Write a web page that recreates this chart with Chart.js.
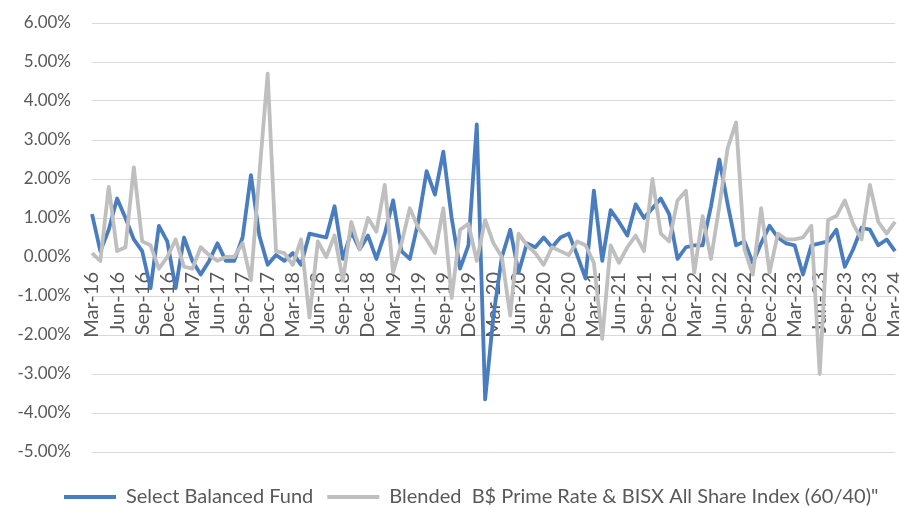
<!DOCTYPE html>
<html>
<head>
<meta charset="utf-8">
<title>Select Balanced Fund vs Blended Benchmark</title>
<script src="https://cdn.jsdelivr.net/npm/chart.js@4.4.1/dist/chart.umd.min.js"></script>
<style>
  html, body { margin: 0; padding: 0; background: #fff; }
  #wrap { width: 899px; height: 508px; position: relative; }
</style>
</head>
<body>
<div id="wrap"><canvas id="myLineChart" width="899" height="508"></canvas></div>
<script>
// Monthly categories (one every month, label shown every quarter)
var months = [
  "Mar-16","Apr-16","May-16","Jun-16","Jul-16","Aug-16","Sep-16","Oct-16","Nov-16","Dec-16",
  "Jan-17","Feb-17","Mar-17","Apr-17","May-17","Jun-17","Jul-17","Aug-17","Sep-17","Oct-17","Nov-17","Dec-17",
  "Jan-18","Feb-18","Mar-18","Apr-18","May-18","Jun-18","Jul-18","Aug-18","Sep-18","Oct-18","Nov-18","Dec-18",
  "Jan-19","Feb-19","Mar-19","Apr-19","May-19","Jun-19","Jul-19","Aug-19","Sep-19","Oct-19","Nov-19","Dec-19",
  "Jan-20","Feb-20","Mar-20","Apr-20","May-20","Jun-20","Jul-20","Aug-20","Sep-20","Oct-20","Nov-20","Dec-20",
  "Jan-21","Feb-21","Mar-21","Apr-21","May-21","Jun-21","Jul-21","Aug-21","Sep-21","Oct-21","Nov-21","Dec-21",
  "Jan-22","Feb-22","Mar-22","Apr-22","May-22","Jun-22","Jul-22","Aug-22","Sep-22","Oct-22","Nov-22","Dec-22",
  "Jan-23","Feb-23","Mar-23","Apr-23","May-23","Jun-23","Jul-23","Aug-23","Sep-23","Oct-23","Nov-23","Dec-23",
  "Jan-24","Feb-24","Mar-24"
];

// Monthly returns in %, Select Balanced Fund
var fundReturns = [
  1.1, 0.15, 0.7, 1.5, 1.0, 0.45, 0.15, -0.8, 0.8, 0.4,
  -0.8, 0.5, -0.1, -0.45, -0.1, 0.35, -0.1, -0.1, 0.5, 2.1, 0.55, -0.2,
  0.05, -0.1, 0.1, -0.2, 0.6, 0.55, 0.5, 1.3, -0.05, 0.65, 0.2, 0.55,
  -0.05, 0.6, 1.45, 0.15, -0.05, 0.9, 2.2, 1.6, 2.7, 1.0, -0.3, 0.3,
  3.4, -3.65, -1.5, 0.0, 0.7, -0.4, 0.35, 0.25, 0.5, 0.25, 0.5, 0.6,
  0.05, -0.55, 1.7, -0.1, 1.2, 0.9, 0.55, 1.35, 1.0, 1.25, 1.5, 1.1,
  -0.05, 0.25, 0.3, 0.3, 1.3, 2.5, 1.35, 0.3, 0.4, -0.15, 0.35, 0.8,
  0.5, 0.35, 0.3, -0.45, 0.3, 0.35, 0.4, 0.7, -0.25, 0.2, 0.75, 0.7,
  0.3, 0.45, 0.15
];

// Monthly returns in %, blended benchmark
var blendedReturns = [
  0.1, -0.1, 1.8, 0.15, 0.25, 2.3, 0.4, 0.3, -0.3, 0.0,
  0.45, -0.25, -0.3, 0.25, 0.05, -0.1, 0.0, 0.0, 0.35, -0.6, 2.1, 4.7,
  0.15, 0.1, -0.2, 0.45, -1.55, 0.4, 0.0, 0.55, -0.6, 0.9, 0.2, 1.0,
  0.65, 1.85, -0.4, 0.35, 1.25, 0.75, 0.45, 0.1, 1.25, -1.05, 0.7, 0.85,
  -0.1, 0.95, 0.35, 0.0, -1.5, 0.6, 0.3, 0.1, -0.2, 0.25, 0.15, 0.05,
  0.4, 0.3, -0.15, -2.1, 0.3, -0.15, 0.25, 0.55, 0.15, 2.0, 0.6, 0.4,
  1.45, 1.7, -0.4, 1.05, -0.05, 1.3, 2.8, 3.45, 0.2, -0.45, 1.25, -0.4,
  0.6, 0.45, 0.45, 0.5, 0.8, -3.0, 0.95, 1.05, 1.45, 0.85, 0.45, 1.85,
  0.9, 0.6, 0.9
];

// Axis settings
var yMin = -5;
var yMax = 6;
var yStep = 1;
var tickEvery = 3;

var seriesNames = [
  "Select Balanced Fund",
  "Blended  B$ Prime Rate & BISX All Share Index (60/40)\""
];

var textColor = "#595959";
var gridColor = "#d9d9d9";
var legendLeft = 50; // legend row starts a bit right of the canvas edge

//  Moves the legend row in from the left edge (right edge moves too so it stays on one row)
var legendShift = {
  id: "legendShift",
  afterLayout: function(chart) {
    var lg = chart.legend;
    if (lg) {
      lg.left = legendLeft;
      lg.right = chart.width + legendLeft;
    }
  }
};

var ctx = document.getElementById("myLineChart").getContext("2d");

var myChart = new Chart(ctx, {
  type: "line",
  data: {
    labels: months,
    datasets: [{
      label: seriesNames[0],
      data: fundReturns,
      borderColor: "#4a7dbf",
      backgroundColor: "#4a7dbf",
      borderWidth: 3.8,
      pointRadius: 0,
      tension: 0,
      order: 1
    }, {
      label: seriesNames[1],
      data: blendedReturns,
      borderColor: "#bfbfbf",
      backgroundColor: "#bfbfbf",
      borderWidth: 3.8,
      pointRadius: 0,
      tension: 0,
      order: 0 // gray drawn on top
    }]
  },
  plugins: [legendShift],
  options: {
    responsive: false,
    animation: false,
    layout: {
      padding: { top: 23, right: 4, bottom: -9, left: 0 }
    },
    elements: {
      line: { borderJoinStyle: "round" }
    },
    plugins: {
      tooltip: { enabled: false },
      legend: {
        position: "bottom",
        align: "start",
        // empty title only pushes the row down toward the bottom edge
        title: {
          display: true,
          text: " ",
          padding: 0,
          font: { size: 17.5 }
        },
        labels: {
          usePointStyle: true,
          pointStyle: "line",
          pointStyleWidth: 52,
          padding: 14,
          color: textColor,
          font: { family: "Lato", size: 20 },
          sort: function(a, b) { return a.datasetIndex - b.datasetIndex; }
        }
      }
    },
    scales: {
      x: {
        position: { y: 0 },
        grid: { display: false, drawTicks: false, tickLength: 0 },
        border: { display: false },
        ticks: {
          autoSkip: false,
          minRotation: 90,
          maxRotation: 90,
          padding: 15,
          color: textColor,
          font: { family: "Lato", size: 20 },
          callback: function(value, index) {
            return index % tickEvery === 0 ? months[index] : "";
          }
        },
        afterFit: function(scale) {
          // labels hang under the zero line, so the axis takes no room
          scale.height = 0;
          scale.paddingLeft = 0;
          scale.paddingRight = 0;
        }
      },
      y: {
        min: yMin,
        max: yMax,
        grid: { color: gridColor, lineWidth: 1, drawTicks: false },
        border: { display: false },
        ticks: {
          stepSize: yStep,
          padding: 21,
          color: textColor,
          font: { family: "Lato", size: 17 },
          callback: function(value) { return value.toFixed(2) + "%"; }
        },
        afterFit: function(scale) {
          scale.width = 92;
          scale.paddingTop = 0;
          scale.paddingBottom = 0;
        }
      }
    }
  }
});
</script>
</body>
</html>
